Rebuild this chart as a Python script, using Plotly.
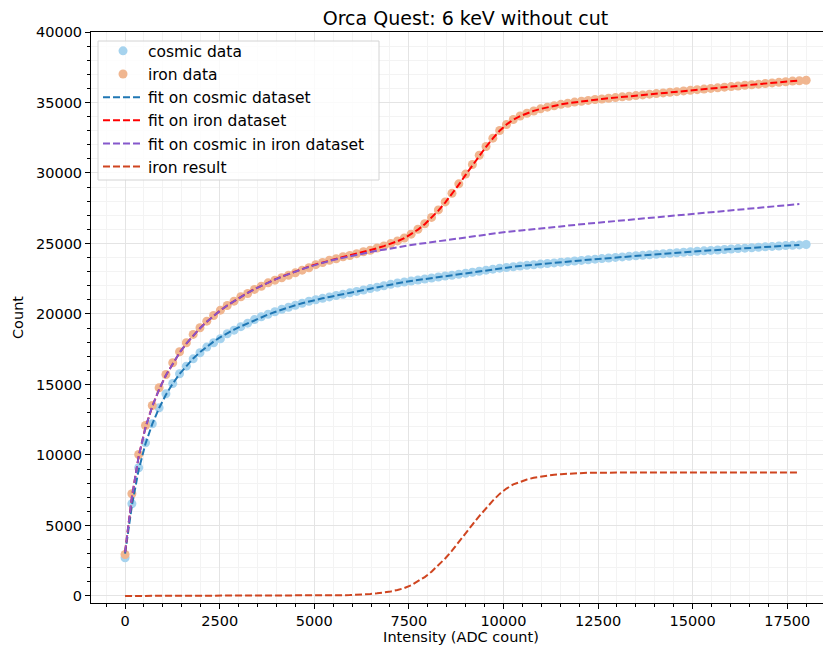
import plotly.graph_objects as go

# === Dati ===
intensity = list(range(0, 18001, 180))
fit_intensity = list(range(0, 17821, 180))

cosmic_counts = [
    2710, 6540, 9090, 10870, 12210, 13350, 14340, 15070, 15760, 16300,
    16820, 17250, 17650, 17960, 18240, 18600, 18850, 19100, 19350, 19600,
    19800, 19980, 20160, 20330, 20480, 20620, 20760, 20900, 21010, 21110,
    21210, 21310, 21400, 21500, 21600, 21700, 21800, 21900, 22000, 22100,
    22200, 22270, 22340, 22410, 22480, 22550, 22620, 22690, 22750, 22820,
    22890, 22960, 23030, 23110, 23180, 23250, 23300, 23350, 23400, 23450,
    23490, 23540, 23580, 23620, 23670, 23710, 23760, 23800, 23850, 23890,
    23930, 23970, 24010, 24050, 24090, 24130, 24160, 24200, 24240, 24270,
    24310, 24340, 24380, 24410, 24450, 24480, 24510, 24540, 24570, 24610,
    24640, 24670, 24700, 24730, 24760, 24790, 24820, 24850, 24870, 24900,
    24930,
]

iron_counts = [
    2940, 7250, 10035, 12090, 13510, 14770, 15710, 16540, 17320, 17960,
    18550, 19020, 19490, 19890, 20270, 20600, 20910, 21220, 21450, 21740,
    21970, 22210, 22400, 22570, 22750, 22920, 23110, 23280, 23500, 23650,
    23810, 23920, 24060, 24150, 24280, 24410, 24520, 24680, 24830, 24990,
    25180, 25390, 25660, 26010, 26400, 26850, 27380, 27950, 28560, 29230,
    29920, 30600, 31260, 31880, 32470, 33010, 33440, 33790, 34040, 34240,
    34400, 34550, 34670, 34770, 34870, 34950, 35030, 35090, 35150, 35210,
    35250, 35300, 35350, 35400, 35440, 35490, 35540, 35590, 35630, 35680,
    35730, 35770, 35820, 35860, 35910, 35950, 36000, 36040, 36090, 36130,
    36170, 36220, 36260, 36300, 36350, 36390, 36430, 36470, 36520, 36540,
    36580,
]

cosmic_fit = [
    3000, 6400, 8950, 10800, 12200, 13330, 14270, 15060, 15740, 16330,
    16840, 17290, 17690, 18040, 18360, 18640, 18890, 19120, 19340, 19560,
    19770, 19960, 20140, 20310, 20470, 20620, 20760, 20890, 21010, 21110,
    21210, 21310, 21400, 21500, 21600, 21700, 21800, 21900, 22000, 22100,
    22200, 22270, 22340, 22410, 22480, 22550, 22620, 22690, 22750, 22820,
    22890, 22960, 23030, 23110, 23180, 23250, 23300, 23350, 23400, 23450,
    23490, 23540, 23580, 23620, 23670, 23710, 23760, 23800, 23850, 23890,
    23930, 23970, 24010, 24050, 24090, 24130, 24160, 24200, 24240, 24270,
    24310, 24340, 24380, 24410, 24450, 24480, 24510, 24540, 24570, 24610,
    24640, 24670, 24700, 24730, 24760, 24790, 24820, 24850, 24870, 24900,
]

iron_fit = [
    3100, 7000, 9900, 11950, 13450, 14650, 15650, 16500, 17250, 17900,
    18480, 18990, 19450, 19870, 20250, 20602, 20922, 21223, 21503, 21764,
    22005, 22236, 22448, 22650, 22842, 23025, 23198, 23362, 23517, 23662,
    23798, 23925, 24043, 24153, 24270, 24395, 24530, 24665, 24815, 24980,
    25160, 25375, 25650, 25980, 26370, 26820, 27330, 27900, 28515, 29170,
    29865, 30560, 31225, 31860, 32455, 33000, 33435, 33780, 34035, 34235,
    34405, 34545, 34665, 34775, 34865, 34950, 35020, 35085, 35145, 35200,
    35250, 35300, 35349, 35397, 35445, 35493, 35540, 35587, 35633, 35680,
    35726, 35771, 35817, 35862, 35907, 35952, 35997, 36041, 36085, 36129,
    36173, 36216, 36259, 36302, 36345, 36388, 36431, 36473, 36515, 36557,
]

cosmic_in_iron_fit = [
    3100, 7000, 9900, 11950, 13450, 14650, 15650, 16500, 17250, 17900,
    18480, 18990, 19450, 19870, 20250, 20600, 20920, 21220, 21500, 21760,
    22000, 22230, 22440, 22640, 22830, 23010, 23180, 23340, 23490, 23630,
    23760, 23880, 23990, 24090, 24190, 24290, 24390, 24480, 24570, 24660,
    24740, 24815, 24890, 24960, 25030, 25100, 25170, 25240, 25305, 25370,
    25435, 25500, 25565, 25630, 25695, 25760, 25815, 25870, 25925, 25975,
    26025, 26075, 26125, 26175, 26225, 26275, 26320, 26365, 26410, 26455,
    26500, 26548, 26596, 26643, 26690, 26737, 26784, 26830, 26876, 26922,
    26968, 27013, 27058, 27103, 27148, 27193, 27237, 27281, 27325, 27369,
    27413, 27456, 27499, 27542, 27585, 27628, 27671, 27713, 27755, 27797,
]

iron_result = [
    0, 0, 0, 0, 0, 0, 0, 0, 0, 0,
    0, 0, 0, 0, 0, 2, 2, 3, 3, 4,
    5, 6, 8, 10, 12, 15, 18, 22, 27, 32,
    38, 45, 53, 63, 80, 105, 140, 185, 245, 320,
    420, 560, 760, 1020, 1340, 1720, 2160, 2660, 3210, 3800,
    4430, 5060, 5660, 6230, 6760, 7240, 7620, 7910, 8110, 8260,
    8380, 8470, 8540, 8600, 8640, 8675, 8700, 8720, 8735, 8745,
    8750, 8752, 8753, 8754, 8755, 8756, 8756, 8757, 8757, 8758,
    8758, 8758, 8759, 8759, 8759, 8759, 8760, 8760, 8760, 8760,
    8760, 8760, 8760, 8760, 8760, 8760, 8760, 8760, 8760, 8760,
]

x_ticks = [0, 2500, 5000, 7500, 10000, 12500, 15000, 17500]
y_ticks = [0, 5000, 10000, 15000, 20000, 25000, 30000, 35000, 40000]

FONT = "DejaVu Sans"
DASH = "7px,3px"

fig = go.Figure()

# === Dati ===
fig.add_trace(go.Scatter(
    x=intensity, y=cosmic_counts, mode="markers", name="cosmic data",
    marker=dict(color="#a6d3ee", size=9, line=dict(width=0)),
    legendgroup="g1",
))
fig.add_trace(go.Scatter(
    x=intensity, y=iron_counts, mode="markers", name="iron data",
    marker=dict(color="#f0b690", size=9, line=dict(width=0)),
    legendgroup="g2",
))

# === Fit ===
fig.add_trace(go.Scatter(
    x=fit_intensity, y=cosmic_fit, mode="lines", name="fit on cosmic dataset",
    line=dict(color="#1f77b4", width=2, dash=DASH), legendgroup="g3",
))
fig.add_trace(go.Scatter(
    x=fit_intensity, y=iron_fit, mode="lines", name="fit on iron dataset",
    line=dict(color="#ff0000", width=2, dash=DASH), legendgroup="g4",
))
fig.add_trace(go.Scatter(
    x=fit_intensity, y=cosmic_in_iron_fit, mode="lines", name="fit on cosmic in iron dataset",
    line=dict(color="#8558cc", width=2, dash=DASH), legendgroup="g5",
))
fig.add_trace(go.Scatter(
    x=fit_intensity, y=iron_result, mode="lines", name="iron result",
    line=dict(color="#cf4520", width=2, dash=DASH), legendgroup="g6",
))

# === Riquadro della legenda (stile matplotlib) ===
fig.add_shape(
    type="rect", xref="x domain", yref="y domain",
    x0=0.0095, x1=0.3892, y0=0.7408, y1=0.9842,
    fillcolor="rgba(255,255,255,0.8)", line=dict(color="#d4d4d4", width=1),
    layer="above",
)

# === Layout (la pagina ha 8px di margine sul body) ===
fig.update_layout(
    width=823, height=640,
    margin=dict(l=83, r=0, t=24, b=45, autoexpand=False),
    paper_bgcolor="white", plot_bgcolor="white",
    font=dict(family=FONT, size=14.5, color="black"),
    title=dict(text="Orca Quest: 6 keV without cut", x=0.5559, xref="container",
               xanchor="center", y=0.984, yref="container", yanchor="middle",
               font=dict(size=19)),
    showlegend=True,
    legend=dict(x=0.0095, y=0.996, xanchor="left", yanchor="top",
                bgcolor="rgba(0,0,0,0)", borderwidth=0,
                font=dict(size=15.5), traceorder="grouped", tracegroupgap=0,
                itemwidth=40),
)

fig.update_xaxes(
    range=[-900, 18656], tickvals=x_ticks, tickformat="d",
    showline=True, linecolor="black", linewidth=1, mirror=True,
    ticks="outside", ticklen=5, tickcolor="black",
    showgrid=True, gridcolor="#e4e4e4", gridwidth=1, zeroline=False,
    minor=dict(dtick=500, tick0=0, ticks="outside", ticklen=3, tickcolor="black",
               showgrid=True, gridcolor="#f3f3f3"),
    title=dict(text="Intensity (ADC count)", standoff=2, font=dict(size=14.5)),
)
fig.update_yaxes(
    range=[-500, 40000], tickvals=y_ticks, tickformat="d",
    showline=True, linecolor="black", linewidth=1, mirror=False,
    ticks="outside", ticklen=5, tickcolor="black",
    showgrid=True, gridcolor="#e4e4e4", gridwidth=1, zeroline=False,
    minor=dict(dtick=1000, tick0=0, ticks="outside", ticklen=3, tickcolor="black",
               showgrid=True, gridcolor="#f3f3f3"),
    title=dict(text="Count", standoff=8, font=dict(size=14.5)),
)

fig.write_html("out.html")
